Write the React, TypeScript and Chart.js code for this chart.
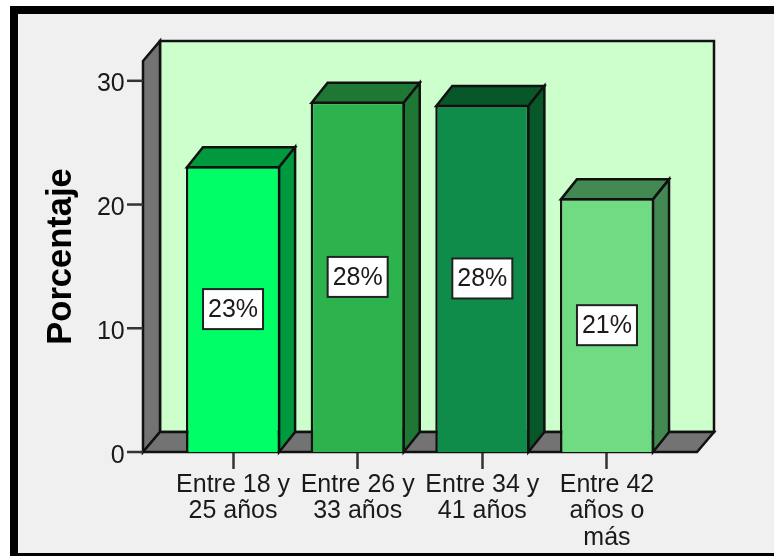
import React, { useEffect, useRef } from "react";
import { Chart, registerables } from "chart.js";

Chart.register(...registerables);

const categories = [
  ["Entre 18 y", "25 años"],
  ["Entre 26 y", "33 años"],
  ["Entre 34 y", "41 años"],
  ["Entre 42", "años o", "más"],
];
const values = [23.1, 28.3, 28.05, 20.5];
const valueLabels = ["23%", "28%", "28%", "21%"];
const frontColors = ["#00ff66", "#2db34d", "#108c4a", "#70db83"];
const sideColors = ["#00993d", "#1e7833", "#075728", "#438a52"];
const yTicks = [0, 10, 20, 30];

const FONT = '"Liberation Sans", Arial, sans-serif';
const INK = "#1a1a1a";

const scene = {
  id: "scene3d",
  beforeDraw(chart: any) {
    const { ctx, width, height } = chart;
    ctx.save();
    ctx.fillStyle = "#000";
    ctx.fillRect(10, 6, width - 10, height - 6);
    ctx.fillStyle = "#f0f0f0";
    ctx.fillRect(18, 14, width - 18, 539);
    ctx.restore();
  },
  beforeDatasetsDraw(chart: any) {
    const { ctx, scales } = chart;
    const y = scales.y;
    const x = scales.x;
    const inset = 27.7;
    const wdx = 17;
    const wdy = 20;
    const fl = x.left - inset;
    const fr = x.right + inset;
    const ft = y.top;
    const fb = y.getPixelForValue(0);
    const poly = (pts: number[][], fill: string) => {
      ctx.beginPath();
      pts.forEach((p, i) => (i ? ctx.lineTo(p[0], p[1]) : ctx.moveTo(p[0], p[1])));
      ctx.closePath();
      ctx.fillStyle = fill;
      ctx.fill();
      ctx.stroke();
    };
    ctx.save();
    ctx.lineWidth = 2.5;
    ctx.strokeStyle = "#111";
    ctx.lineJoin = "miter";
    poly([[fl + wdx, ft - wdy], [fr + wdx, ft - wdy], [fr + wdx, fb - wdy], [fl + wdx, fb - wdy]], "#ccffcc");
    poly([[fl, ft], [fl + wdx, ft - wdy], [fl + wdx, fb - wdy], [fl, fb]], "#737373");
    poly([[fl, fb], [fl + wdx, fb - wdy], [fr + wdx, fb - wdy], [fr, fb]], "#737373");
    ctx.strokeStyle = "#333";
    yTicks.forEach((t) => {
      const py = y.getPixelForValue(t);
      ctx.beginPath();
      ctx.moveTo(fl - 16, py);
      ctx.lineTo(fl, py);
      ctx.stroke();
    });
    ctx.strokeStyle = "#111";
    const bars = chart.getDatasetMeta(0).data;
    const dx = 16;
    const dy = 20;
    bars.forEach((b: any, i: number) => {
      const { x: cx, y: top, base, width: w } = b.getProps(["x", "y", "base", "width"], true);
      const x0 = cx - w / 2 + 1;
      const x1 = cx + w / 2 - 1;
      const t = top + 1;
      poly([[x0, t], [x0 + dx, t - dy], [x1 + dx, t - dy], [x1, t]], sideColors[i]);
      poly([[x1, t], [x1 + dx, t - dy], [x1 + dx, base - dy], [x1, base]], sideColors[i]);
    });
    ctx.restore();
  },
  afterDatasetsDraw(chart: any) {
    const { ctx } = chart;
    const bars = chart.getDatasetMeta(0).data;
    ctx.save();
    bars.forEach((b: any, i: number) => {
      const { x: cx, y: top, base } = b.getProps(["x", "y", "base"], true);
      const cy = (top + base) / 2;
      const bw = 60;
      const bh = 40;
      ctx.fillStyle = "#fff";
      ctx.strokeStyle = "#222";
      ctx.lineWidth = 2;
      ctx.fillRect(cx - bw / 2, cy - bh / 2, bw, bh);
      ctx.strokeRect(cx - bw / 2, cy - bh / 2, bw, bh);
      ctx.fillStyle = INK;
      ctx.font = `25px ${FONT}`;
      ctx.textAlign = "center";
      ctx.textBaseline = "middle";
      ctx.fillText(valueLabels[i], cx, cy + 1);
    });
    ctx.restore();
  },
};

export default function App() {
  const ref = useRef<HTMLCanvasElement>(null);
  useEffect(() => {
    document.body.style.margin = "0";
    const chart = new Chart(ref.current as HTMLCanvasElement, {
      type: "bar",
      data: {
        labels: categories as any,
        datasets: [
          {
            label: "Porcentaje",
            data: values,
            backgroundColor: frontColors,
            borderColor: "#111",
            borderWidth: 2.5,
            categoryPercentage: 1,
            barPercentage: 0.755,
          },
        ],
      },
      plugins: [scene],
      options: {
        responsive: false,
        animation: false,
        layout: { padding: { left: 30, right: 104.7, top: 61, bottom: 0 } },
        plugins: { legend: { display: false }, tooltip: { enabled: false } },
        scales: {
          x: {
            afterFit: (s: any) => {
              s.height = 104;
            },
            border: { display: false },
            grid: {
              offset: false,
              drawOnChartArea: false,
              drawTicks: true,
              tickLength: 17,
              tickWidth: 2.5,
              tickColor: "#333",
            },
            ticks: {
              autoSkip: false,
              maxRotation: 0,
              minRotation: 0,
              padding: 3,
              color: INK,
              font: { family: FONT, size: 25, lineHeight: 1.05 },
            },
          },
          y: {
            min: 0,
            max: 31.6,
            afterFit: (s: any) => {
              s.width = 140.7;
            },
            border: { display: false },
            grid: { display: false, drawTicks: false },
            ticks: {
              stepSize: 10,
              includeBounds: false,
              padding: 46,
              color: INK,
              // a leading empty line sets the label a few pixels below its tick, as in the reference
              callback: (v: any) => ["", String(v)],
              font: { family: FONT, size: 25, lineHeight: 0.3 },
            },
            title: {
              display: true,
              text: "Porcentaje",
              color: "#000",
              padding: { top: 14, bottom: 0 },
              font: { family: FONT, size: 34.5, weight: "bold", lineHeight: 1 },
            },
          },
        },
      },
    } as any);
    return () => chart.destroy();
  }, []);
  return <canvas ref={ref} width={774} height={556} style={{ display: "block", filter: "blur(0.5px)" }} />;
}
